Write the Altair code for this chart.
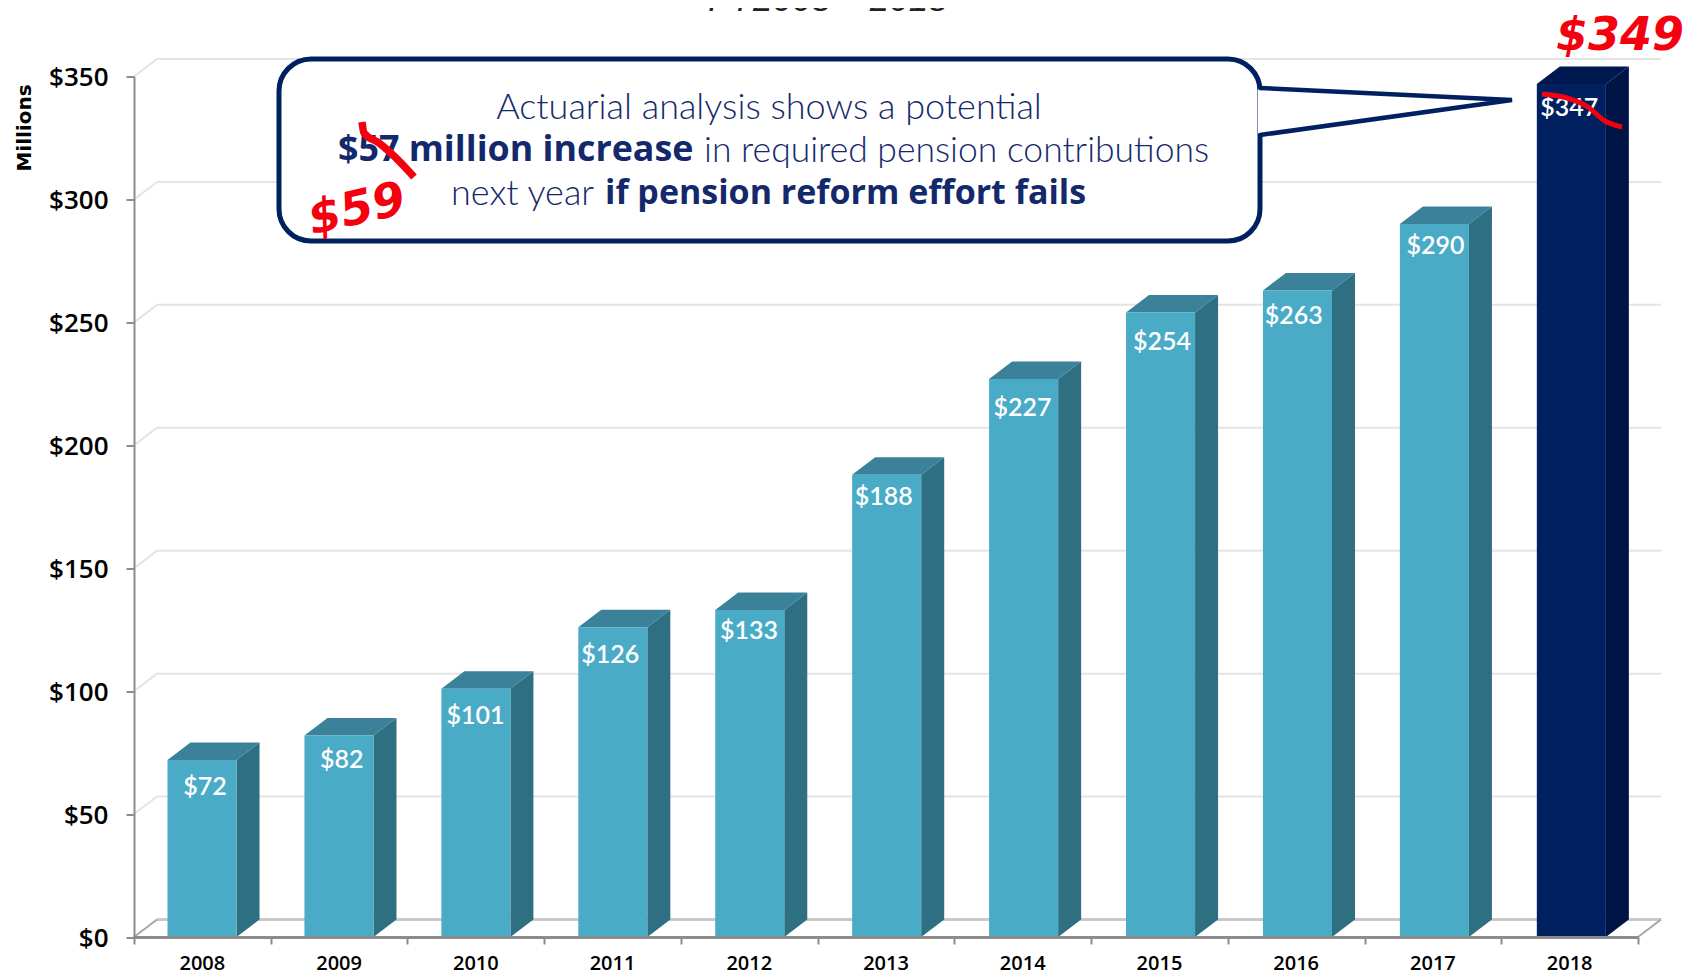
import altair as alt
import pandas as pd

years = ["2008","2009","2010","2011","2012","2013","2014","2015","2016","2017","2018"]
values = [72,82,101,126,133,188,227,254,263,290,347]
ticks = [0,50,100,150,200,250,300,350]
# small read-off shifts of the printed bar labels, pixels
label_shift_x = [3,3,0,-2,0,-2,0,3,-2,3,0]
label_shift_y = [3,1,3,4,-3,-2,5,5,2,-2,0]

NAVY="#00205f"; TEXTC="#14296b"; RED="#f5000f"; AXC="#8c8c8c"
L,T,W,H = 134,76.5,1504,860.5
def X(px): return (px-L)/W*11
def Y(py): return (T+H-py)/H*350
DX, DY = X(L+23), 350*17.5/H
BAR0, BAR1, STEP = 0.245, 0.75, 1.0015

xs = alt.Scale(domain=[0,11], nice=False, zero=False)
ys = alt.Scale(domain=[0,350], nice=False, zero=False)
x_axis = alt.Axis(values=list(range(12)),labels=False,grid=False,domainColor=AXC,domainWidth=3,
        tickColor=AXC,tickWidth=2,tickSize=7,title=None,zindex=1)
y_axis = alt.Axis(values=ticks,format="$d",grid=False,domainColor=AXC,domainWidth=2,
        tickColor=AXC,tickWidth=2,tickSize=8,labelFont="Open Sans",labelFontSize=26,labelFontWeight=600,
        labelColor="black",labelPadding=18,labelOffset=1,title=None,zindex=1)
xq = lambda f="x": alt.X(f, type="quantitative", scale=xs, axis=x_axis)
yq = lambda f="y": alt.Y(f, type="quantitative", scale=ys, axis=y_axis)

grid = pd.DataFrame([{"x":DX,"x2":X(1661),"y":v+DY,"y2":v+DY} for v in ticks[1:]]+
                    [{"x":0,"x2":DX,"y":v,"y2":v+DY} for v in ticks[1:]])
floor = pd.DataFrame([{"x":DX,"x2":X(1661),"y":DY,"y2":DY}])
floor_d = pd.DataFrame([{"x":0,"x2":DX,"y":0,"y2":DY},{"x":11,"x2":X(1661),"y":0,"y2":DY}])
def rule(df,color,w):
    return alt.Chart(df).mark_rule(color=color,strokeWidth=w,clip=False).encode(
        x=xq(),x2="x2",y=yq(),y2="y2")

front=[];side=[];top=[]
for i,(yr,v) in enumerate(zip(years,values)):
    a,b=i*STEP+BAR0,i*STEP+BAR1
    kind="hi" if yr=="2018" else "lo"
    front.append({"x":a,"x2":b,"y":0,"y2":v,"k":kind})
    side += [{"x":b,"y":0,"y2":v,"id":yr,"k":kind},{"x":b+DX,"y":DY,"y2":v+DY,"id":yr,"k":kind}]
    top += [{"x":a,"y":v,"y2":v,"id":yr,"k":kind},{"x":a+DX,"y":v,"y2":v+DY,"id":yr,"k":kind},
            {"x":b,"y":v,"y2":v+DY,"id":yr,"k":kind},{"x":b+DX,"y":v+DY,"y2":v+DY,"id":yr,"k":kind}]
def kc(lo,hi):
    return alt.Color("k:N",scale=alt.Scale(domain=["lo","hi"],range=[lo,hi]),legend=None)
side_l=alt.Chart(pd.DataFrame(side)).mark_area(clip=False).encode(x=xq(),y=yq(),y2="y2",detail="id:N",
        color=kc("#2f6f82","#001445"))
top_l=alt.Chart(pd.DataFrame(top)).mark_area(clip=False).encode(x=xq(),y=yq(),y2="y2",detail="id:N",
        color=kc("#3a8199","#001850"))
front_l=alt.Chart(pd.DataFrame(front)).mark_rect(clip=False).encode(x=xq(),x2="x2",y=yq(),y2="y2",
        color=kc("#4aabc7","#00205f"))
lab=pd.DataFrame({"x":[i+(BAR0+BAR1)/2+s/W*11 for i,s in enumerate(label_shift_x)],
                  "y":[v-s/H*350 for v,s in zip(values,label_shift_y)],
                  "t":[f"${v}" for v in values]})
labels=alt.Chart(lab).mark_text(font="Lato",fontSize=25,fontWeight=600,color="white",baseline="middle",dy=24,clip=False).encode(
        x=xq(),y=yq(),text="t:N")

year_l=alt.Chart(pd.DataFrame({"x":[i+.5 for i in range(11)],"y":[Y(964)]*11,"t":years})).mark_text(
    font="Open Sans",fontSize=20,fontWeight=600,color="black",baseline="middle",clip=False).encode(x=xq(),y=yq(),text="t:N")
millions=alt.Chart(pd.DataFrame({"x":[X(25)],"y":[Y(128)],"t":["Millions"]})).mark_text(
    font="DejaVu Sans",fontSize=20,fontWeight="bold",angle=270,color="black",baseline="middle",clip=False).encode(x=xq(),y=yq(),text="t:N")
title=alt.Chart(pd.DataFrame({"x":[X(828)],"y":[Y(11)],"t":["FY2008 \u2013 2018"]})).mark_text(
    font="Liberation Sans",fontSize=35,fontStyle="italic",color="#222222",baseline="alphabetic",clip=False).encode(x=xq(),y=yq(),text="t:N")

box=pd.DataFrame({"x":[X(279)],"x2":[X(1260)],"y":[Y(59)],"y2":[Y(241)]})
box_l=alt.Chart(box).mark_rect(fill="white",stroke=NAVY,strokeWidth=5,cornerRadius=32,clip=False).encode(x=xq(),x2="x2",y=yq(),y2="y2")
ptr_x=[1258,1512]; ptr_top=[88,100]; ptr_bot=[135,100]
ptr=pd.DataFrame({"x":[X(p) for p in ptr_x],"y":[Y(p) for p in ptr_top],"y2":[Y(p) for p in ptr_bot]})
ptr_fill=alt.Chart(ptr).mark_area(color="white",clip=False).encode(x=xq(),y=yq(),y2="y2")
ptr_line=pd.DataFrame({"x":[X(1260),X(1512),X(1260)],"y":[Y(88),Y(100),Y(135)],"o":[0,1,2]})
ptr_l=alt.Chart(ptr_line).mark_line(color=NAVY,strokeWidth=4.5,strokeCap="round",clip=False).encode(x=xq(),y=yq(),order="o:Q")

def txt(rows,**kw):
    out=[]
    for t,x,y,al,fs in rows:
        out.append(alt.Chart(pd.DataFrame({"x":[X(x)],"y":[Y(y)],"t":[t]})).mark_text(
            color=TEXTC,baseline="middle",align=al,clip=False,fontSize=fs,**kw).encode(x=xq(),y=yq(),text="t:N"))
    return out
lt=txt([("Actuarial analysis shows a potential",769,108,"center",36),
        ("in required pension contributions",704,151,"left",35.5),
        ("next year",451,194,"left",36)],font="Lato",fontWeight=300)
bd=txt([("$57 million increase",338,150,"left",35.8),
        ("if pension reform effort fails",605,194,"left",34)],font="Open Sans",fontWeight=700)

strike1=[(362,122),(364,133),(379,143),(395,157),(414,177)]
strike2=[(1542,94),(1567,98),(1588,107),(1605,121),(1622,127)]
def stroke(pts,w):
    d=pd.DataFrame({"x":[X(p[0]) for p in pts],"y":[Y(p[1]) for p in pts],"o":range(len(pts))})
    return alt.Chart(d).mark_line(color=RED,strokeWidth=w,interpolate="monotone",clip=False).encode(x=xq(),y=yq(),order="o:Q")
red349=alt.Chart(pd.DataFrame({"x":[X(1620)],"y":[Y(36)],"t":["$349"]})).mark_text(
    font="DejaVu Sans",fontSize=46,fontWeight="bold",fontStyle="italic",color=RED,baseline="middle",clip=False).encode(x=xq(),y=yq(),text="t:N")
red59=alt.Chart(pd.DataFrame({"x":[X(357)],"y":[Y(210)],"t":["$59"]})).mark_text(
    font="DejaVu Sans",fontSize=47,fontWeight="bold",fontStyle="italic",angle=347,color=RED,baseline="middle",clip=False).encode(x=xq(),y=yq(),text="t:N")

chart=alt.layer(
    rule(grid,"#e4e4e4",2), rule(floor,"#c9c9c9",3), rule(floor_d,"#a8a8a8",2),
    side_l,top_l,front_l,labels,year_l,millions,title,
    box_l,ptr_fill,ptr_l,*lt,*bd,stroke(strike1,7.5),stroke(strike2,5),red349,red59
).resolve_scale(color="independent").properties(
    width=W,height=H,
    padding={"left":L-8,"top":T-8,"right":50,"bottom":38},
    autosize=alt.AutoSizeParams(type="none"),
    background="white"
).configure_view(stroke=None)

chart.save("out.html",embed_options={"renderer":"svg","actions":False})
